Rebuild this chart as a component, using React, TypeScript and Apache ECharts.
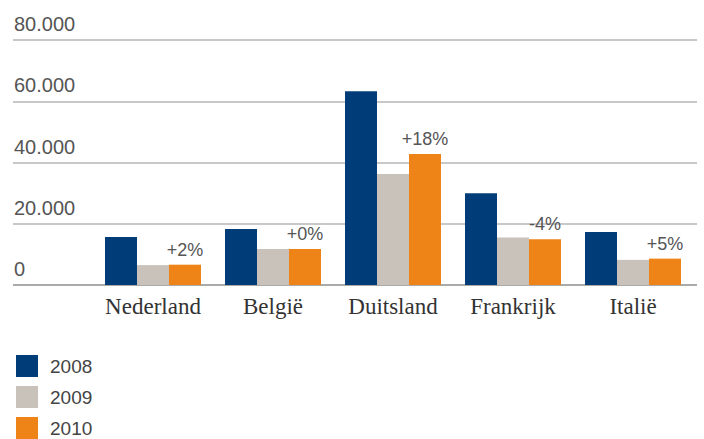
import React, { useEffect, useRef } from "react";
import * as echarts from "echarts";

const countries = ["Nederland", "België", "Duitsland", "Frankrijk", "Italië"];
const years = ["2008", "2009", "2010"];
const values2008 = [15700, 18300, 63300, 30000, 17300];
const values2009 = [6500, 11750, 36250, 15500, 8200];
const values2010 = [6630, 11750, 42780, 14900, 8610];
const changeLabels = ["+2%", "+0%", "+18%", "-4%", "+5%"];
const yTicks = [0, 20000, 40000, 60000, 80000];

const colors = ["#003c78", "#c8c2bb", "#ee8317"];

const fmt = (v: number) => (v === 0 ? "0" : v.toLocaleString("nl-NL").replace(/,/g, "."));

export default function App() {
  const ref = useRef<HTMLDivElement>(null);

  useEffect(() => {
    if (!ref.current) return;
    const chart = echarts.init(ref.current, null, { renderer: "svg" });
    const yMax = yTicks[yTicks.length - 1];
    const step = yTicks[1] - yTicks[0];
    const sans = "'Liberation Sans', Arial, sans-serif";
    const serif = "'Liberation Serif', 'Times New Roman', serif";

    chart.setOption({
      animation: false,
      backgroundColor: "#ffffff",
      color: colors,
      grid: [
        { left: 13, right: 7, top: 40, height: 245 },
        { left: 93, right: 11, top: 40, height: 245 },
      ],
      legend: {
        orient: "vertical",
        left: 16,
        top: 355,
        padding: 0,
        itemWidth: 22,
        itemHeight: 22,
        itemGap: 9,
        icon: "rect",
        data: years,
        textStyle: {
          fontFamily: sans,
          fontSize: 19,
          color: "#444",
          padding: [9, 0, 0, 7],
        },
      },
      xAxis: [
        { gridIndex: 0, type: "value", min: 0, max: 1, show: false },
        {
          gridIndex: 1,
          type: "category",
          data: countries,
          axisLine: { show: false },
          axisTick: { show: false },
          axisLabel: {
            interval: 0,
            margin: 10,
            fontFamily: serif,
            fontSize: 23,
            color: "#333",
          },
        },
      ],
      yAxis: [
        {
          gridIndex: 0,
          type: "value",
          min: 0,
          max: yMax,
          interval: step,
          axisLine: { show: false },
          axisTick: { show: false },
          splitLine: {
            lineStyle: {
              width: 2,
              color: ["#aaaaaa", "#c8c8c8", "#c8c8c8", "#c8c8c8", "#c8c8c8"],
            },
          },
          axisLabel: {
            align: "left",
            verticalAlign: "bottom",
            margin: -1,
            padding: [0, 0, 6, 0],
            fontFamily: sans,
            fontSize: 20,
            color: "#555",
            formatter: (v: number) => fmt(v),
          },
        },
        { gridIndex: 1, type: "value", min: 0, max: yMax, interval: step, show: false },
      ],
      series: [
        {
          name: years[0],
          type: "bar",
          xAxisIndex: 1,
          yAxisIndex: 1,
          data: values2008,
          barWidth: 32,
          barGap: "0%",
        },
        {
          name: years[1],
          type: "bar",
          xAxisIndex: 1,
          yAxisIndex: 1,
          data: values2009,
          barWidth: 32,
          barGap: "0%",
        },
        {
          name: years[2],
          type: "bar",
          xAxisIndex: 1,
          yAxisIndex: 1,
          data: values2010,
          barWidth: 32,
          barGap: "0%",
          label: {
            show: true,
            position: "top",
            distance: 6,
            fontFamily: sans,
            fontSize: 18,
            color: "#555",
            formatter: (p: any) => changeLabels[p.dataIndex],
          },
        },
      ],
    });
    return () => chart.dispose();
  }, []);

  return (
    <div
      ref={ref}
      style={{ position: "fixed", left: 0, top: 0, width: 704, height: 439 }}
    />
  );
}
